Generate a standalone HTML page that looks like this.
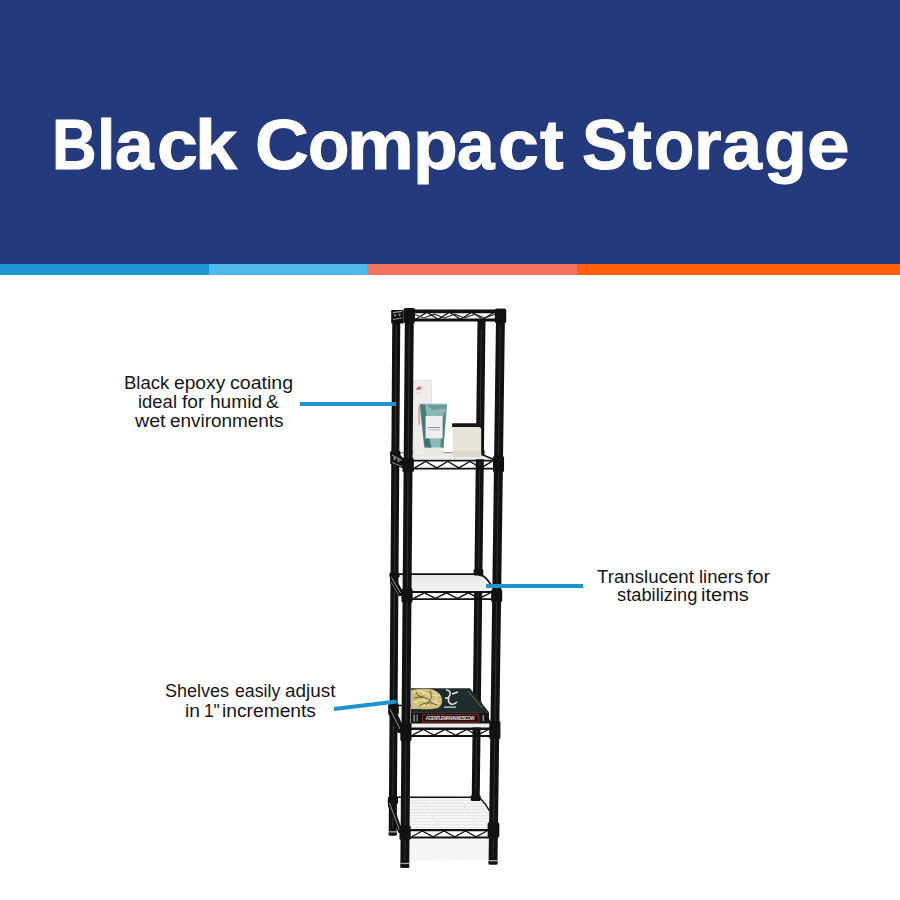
<!DOCTYPE html>
<html><head><meta charset="utf-8">
<style>
html,body{margin:0;padding:0;}
body{width:900px;height:900px;position:relative;overflow:hidden;background:#fff;font-family:"Liberation Sans",sans-serif;}
#hdr{position:absolute;left:0;top:0;width:900px;height:264px;background:#253a7c;}
.tw{position:absolute;top:110px;font-size:70px;font-weight:bold;color:#fff;-webkit-text-stroke:1px #fff;white-space:nowrap;line-height:70px;transform-origin:0 0;}
.stripe{position:absolute;top:264px;height:11px;}
.ln{position:absolute;font-size:17.5px;color:#161616;white-space:nowrap;line-height:17.5px;transform-origin:0 0;}
.line{position:absolute;background:#1f93cf;height:4px;}
svg{position:absolute;left:0;top:0;}
</style></head><body>
<div id="hdr"></div>
<div class="tw" style="left:52.07px;transform:scaleX(0.8818)">B</div>
<div class="tw" style="left:96.92px;transform:scaleX(0.9455)">l</div>
<div class="tw" style="left:114.72px;transform:scaleX(0.9921)">a</div>
<div class="tw" style="left:156.80px;transform:scaleX(1.0486)">c</div>
<div class="tw" style="left:194.58px;transform:scaleX(1.0800)">k</div>
<div class="tw" style="left:254.57px;transform:scaleX(1.0638)">C</div>
<div class="tw" style="left:308.06px;transform:scaleX(0.9692)">o</div>
<div class="tw" style="left:346.81px;transform:scaleX(1.0722)">m</div>
<div class="tw" style="left:412.51px;transform:scaleX(1.0472)">p</div>
<div class="tw" style="left:456.97px;transform:scaleX(0.9658)">a</div>
<div class="tw" style="left:497.90px;transform:scaleX(1.0486)">c</div>
<div class="tw" style="left:540.00px;transform:scaleX(1.0130)">t</div>
<div class="tw" style="left:582.05px;transform:scaleX(0.9762)">S</div>
<div class="tw" style="left:628.30px;transform:scaleX(1.0174)">t</div>
<div class="tw" style="left:654.22px;transform:scaleX(0.9410)">o</div>
<div class="tw" style="left:694.27px;transform:scaleX(1.0087)">r</div>
<div class="tw" style="left:721.95px;transform:scaleX(1.0263)">a</div>
<div class="tw" style="left:764.00px;transform:scaleX(1.0000)">g</div>
<div class="tw" style="left:807.11px;transform:scaleX(1.0943)">e</div>
<div class="stripe" style="left:0;width:209px;background:#1e96d4"></div>
<div class="stripe" style="left:209px;width:158px;background:#4fb9ec"></div>
<div class="stripe" style="left:367px;width:210px;background:#f47360"></div>
<div class="stripe" style="left:577px;width:323px;background:#fc5e0a"></div>

<svg width="900" height="900" viewBox="0 0 900 900">
<polygon points="392.34,310.00 400.34,310.00 396.70,835.60 388.70,835.60" fill="#111111"/>
<rect x="388.72" y="831.60" width="8.00" height="4" rx="2" fill="#111111"/>
<polygon points="477.50,321.00 485.50,321.00 479.70,800.00 471.70,800.00" fill="#111111"/>
<rect x="471.74" y="796.00" width="8.00" height="4" rx="2" fill="#111111"/>
<line x1="396.24" y1="325" x2="392.75" y2="828" stroke="#3a3a3a" stroke-width="0.8"/>
<line x1="481.39" y1="330" x2="475.82" y2="790" stroke="#3a3a3a" stroke-width="0.8"/>
<rect x="388.73" y="831.2" width="8.00" height="1.3" fill="#a8a8a8"/>
<polygon points="399.5,452.9 476.5,452.9 494,459.2 412,459.2" fill="#ededed"/>
<polygon points="399,456 404,458.5 404,466 400,464" fill="#d8d8d8"/>
<defs><linearGradient id="g3" x1="0" y1="0" x2="0" y2="1"><stop offset="0" stop-color="#e6e6e6"/><stop offset="1" stop-color="#f3f3f3"/></linearGradient><linearGradient id="g5" x1="0" y1="0" x2="0" y2="1"><stop offset="0" stop-color="#f2f2f2"/><stop offset="1" stop-color="#f7f7f7"/></linearGradient></defs>
<polygon points="398.5,574.5 475,574.5 483,577 492,588 492,591.5 411,591.5 401,583" fill="url(#g3)"/>
<polygon points="396,706 474,706 492,727.5 403,727.5" fill="#eeeeee"/>
<polygon points="396,797.5 473,797.5 482,802 489.5,813 489.5,829 409,829 398,808" fill="url(#g5)"/>
<line x1="399.2" y1="800.5" x2="489.0" y2="800.5" stroke="#e3e3e3" stroke-width="0.8"/>
<line x1="400.3" y1="803.5" x2="489.0" y2="803.5" stroke="#e3e3e3" stroke-width="0.8"/>
<line x1="401.3" y1="806.5" x2="489.0" y2="806.5" stroke="#e3e3e3" stroke-width="0.8"/>
<line x1="402.4" y1="809.5" x2="489.0" y2="809.5" stroke="#e3e3e3" stroke-width="0.8"/>
<line x1="403.4" y1="812.5" x2="489.0" y2="812.5" stroke="#e3e3e3" stroke-width="0.8"/>
<line x1="404.5" y1="815.5" x2="489.0" y2="815.5" stroke="#e3e3e3" stroke-width="0.8"/>
<line x1="405.5" y1="818.5" x2="489.0" y2="818.5" stroke="#e3e3e3" stroke-width="0.8"/>
<line x1="406.6" y1="821.5" x2="489.0" y2="821.5" stroke="#e3e3e3" stroke-width="0.8"/>
<line x1="407.6" y1="824.5" x2="489.0" y2="824.5" stroke="#e3e3e3" stroke-width="0.8"/>
<line x1="408.7" y1="827.5" x2="489.0" y2="827.5" stroke="#e3e3e3" stroke-width="0.8"/>
<line x1="420" y1="798" x2="440" y2="828" stroke="#e0e0e0" stroke-width="0.8"/>
<line x1="460" y1="798" x2="478" y2="828" stroke="#e0e0e0" stroke-width="0.8"/>
<polygon points="409,840 490,840 489,860 407,861" fill="#f5f5f5"/>
<line x1="398" y1="452.6" x2="478" y2="452.6" stroke="#9a9a9a" stroke-width="1.2"/>
<rect x="390.23" y="450.80" width="10.24" height="5.70" rx="1.6" fill="#111111"/>
<rect x="475.27" y="449.50" width="9.27" height="6.00" rx="1.6" fill="#111111"/>
<polygon points="390.3,452 397.5,452 403.5,458.5 403.5,468.5 390.3,464" fill="#111111"/>
<line x1="392" y1="455" x2="402" y2="460.5" stroke="#bdbdbd" stroke-width="0.9"/>
<line x1="392" y1="462.5" x2="402" y2="466.5" stroke="#9a9a9a" stroke-width="0.9"/>
<rect x="393.5" y="457" width="2" height="3" fill="#888"/><rect x="397.5" y="459" width="2" height="3" fill="#888"/>
<line x1="483" y1="455" x2="494" y2="459.5" stroke="#111111" stroke-width="1.4"/>
<line x1="398" y1="574.2" x2="476" y2="574.2" stroke="#111111" stroke-width="1.7"/>
<rect x="389.39" y="572.50" width="10.23" height="5.00" rx="1.6" fill="#111111"/>
<rect x="473.62" y="569.00" width="9.68" height="6.60" rx="1.6" fill="#111111"/>
<polygon points="390,575 394,575 402,590 402,596 399,596 390,583" fill="#111111"/>
<line x1="391.5" y1="577.5" x2="400.5" y2="593" stroke="#a8a8a8" stroke-width="0.9"/>
<line x1="391" y1="582" x2="398.5" y2="594.5" stroke="#8a8a8a" stroke-width="0.7"/>
<path d="M482 575 Q489 580 492.5 588" stroke="#111111" stroke-width="1.6" fill="none"/>
<line x1="398" y1="705.5" x2="474" y2="705.5" stroke="#111111" stroke-width="1.6"/>
<rect x="388.34" y="703.30" width="10.48" height="11.40" rx="1.6" fill="#111111"/>
<rect x="472.01" y="701.00" width="9.68" height="7.00" rx="1.6" fill="#111111"/>
<polygon points="388.5,705 393.5,705 402.5,725 402.5,733 398,733 388.5,714" fill="#111111"/>
<line x1="390" y1="709" x2="400" y2="729" stroke="#a0a0a0" stroke-width="0.9"/>
<path d="M480 707 Q487 714 491.5 726" stroke="#111111" stroke-width="1.5" fill="none"/>
<line x1="396" y1="797.3" x2="473" y2="797.3" stroke="#111111" stroke-width="1.6"/>
<rect x="387.82" y="796.80" width="10.25" height="7.10" rx="1.6" fill="#111111"/>
<rect x="470.79" y="795.00" width="9.87" height="6.00" rx="1.6" fill="#111111"/>
<polygon points="388,800 391.5,800 401,827 401,833 398.5,833 388,806" fill="#111111"/>
<line x1="389.5" y1="803" x2="399.5" y2="830" stroke="#a0a0a0" stroke-width="0.9"/>
<path d="M480 798 Q486 804 489.5 811" stroke="#111111" stroke-width="1.5" fill="none"/>
<g>
<rect x="413.8" y="380.2" width="17.9" height="75" fill="#eeedeb" stroke="#dcdad6" stroke-width="0.7"/>
<path d="M415.8 389.8 q1.8 -3.8 5.6 -3.2 l-1 3.2 z" fill="#e06058"/>
<rect x="416" y="392.5" width="6" height="0.8" fill="#e8c0bb"/>
<rect x="418.2" y="406" width="1.8" height="19" fill="#e7a29a"/>
<polygon points="419.4,403.8 447.3,403.8 443.5,447.7 424.2,447.7" fill="#8bb7b7"/>
<polygon points="420,404.5 425,404.5 431,447.7 424.5,447.7" fill="#4a7a7a"/>
<polygon points="427,405 446.8,405 446.5,408.5 432,410" fill="#6f9a9a"/>
<polygon points="442,418 446,410 443.5,447.7 440.5,447.7" fill="#55807f"/>
<polygon points="426,438 432,447.7 428,447.7 425,441" fill="#3d6a6a"/>
<rect x="425.6" y="416" width="17" height="22.3" fill="#eef0f0"/>
<rect x="427.5" y="427" width="12.5" height="0.9" fill="#7b8a8a"/>
<rect x="428.5" y="429.5" width="11.5" height="0.8" fill="#a0abab"/>
<rect x="424.2" y="447.7" width="19.3" height="7.8" fill="#e8e6e1"/>
<rect x="452" y="423.2" width="30.2" height="4" rx="1" fill="#1a1a1a"/>
<rect x="452.6" y="427" width="28.6" height="30" rx="2.5" fill="#e7e3d9"/>
<rect x="452.6" y="451" width="28.6" height="6" rx="2.5" fill="#dcd8ce"/>
</g>
<g>
<polygon points="411,688.3 470,688.3 489,712.2 411,712.2" fill="#1f2c2d"/>
<path d="M411 690 L418 689 Q428 688 434 690 Q441 693 442 699 Q443 705 438 708 Q430 710 420 709 L411 709 Z" fill="#cfbd78"/>
<g stroke="#f0e6b4" stroke-width="1" fill="none">
<path d="M412 693 q9 -4 16 2 q7 6 -1 10 q-9 3 -12 -4"/>
<path d="M418 690 q12 7 22 5"/>
<path d="M413 703 q13 -7 27 1"/>
<path d="M424 691 q-3 10 6 16"/>
<path d="M432 690 q8 6 2 16"/>
</g>
<g stroke="#5e5028" stroke-width="0.9" fill="none">
<path d="M414 698 q10 -3 18 4"/>
<path d="M430 691 q4 8 -4 14"/>
<path d="M419 706 q8 -6 18 -1"/>
<path d="M416 692 q2 6 8 4"/>
</g>
<path d="M446 690 q5 0 4 5 q-2 4 -5 3 M449 697 q-2 5 2 7 q3 1 6 -2 M452 694 l6 -2" stroke="#e8e8e8" stroke-width="1.5" fill="none"/>
<line x1="468" y1="691" x2="482" y2="708" stroke="#a38a3a" stroke-width="0.7"/>
<rect x="444" y="706.5" width="12" height="1.3" fill="#d0d0d0"/>
<rect x="411" y="712.2" width="78" height="11.3" fill="#141414"/>
<rect x="422" y="713.9" width="57.4" height="8.9" fill="#7d1f1f"/>
<rect x="423.3" y="715.2" width="54.8" height="6.3" fill="#1a1111"/>
<text x="425.5" y="720.2" font-family="Liberation Sans" font-size="4.6" font-weight="bold" fill="#e0dcdc" textLength="49" lengthAdjust="spacing">A GENTLEMAN IN MOSCOW</text>
<rect x="413.5" y="714.5" width="1.4" height="7" fill="#9a9a9a"/>
<rect x="416.5" y="714.5" width="1.4" height="7" fill="#7a7a7a"/>
<rect x="482.5" y="715" width="1.6" height="6" fill="#8a8a8a"/>
</g>
<line x1="413.82" y1="311.4" x2="496.11" y2="311.4" stroke="#111111" stroke-width="3.6"/>
<line x1="413.82" y1="320.0" x2="496.11" y2="320.0" stroke="#111111" stroke-width="3.2"/>
<polyline points="415.8,319.2 427.0,312.2 438.2,319.2 449.4,312.2 460.6,319.2 471.7,312.2 482.9,319.2 494.1,312.2" fill="none" stroke="#111111" stroke-width="1.3"/>
<line x1="412.60" y1="460.6" x2="494.07" y2="460.6" stroke="#111111" stroke-width="1.7"/>
<line x1="412.60" y1="468.7" x2="494.07" y2="468.7" stroke="#111111" stroke-width="1.8"/>
<polyline points="414.6,467.9 425.7,461.4 436.7,467.9 447.8,461.4 458.9,467.9 469.9,461.4 481.0,467.9 492.1,461.4" fill="none" stroke="#111111" stroke-width="1.3"/>
<line x1="411.52" y1="592.0" x2="492.28" y2="592.0" stroke="#111111" stroke-width="1.9"/>
<line x1="411.52" y1="599.2" x2="492.28" y2="599.2" stroke="#111111" stroke-width="1.8"/>
<polyline points="413.5,598.4 424.5,592.8 435.4,598.4 446.4,592.8 457.4,598.4 468.3,592.8 479.3,598.4 490.3,592.8" fill="none" stroke="#111111" stroke-width="1.3"/>
<line x1="410.39" y1="728.7" x2="490.41" y2="728.7" stroke="#111111" stroke-width="2.6"/>
<line x1="410.39" y1="736.0" x2="490.41" y2="736.0" stroke="#111111" stroke-width="2.0"/>
<polyline points="412.4,735.2 423.3,729.5 434.1,735.2 445.0,729.5 455.8,735.2 466.7,729.5 477.5,735.2 488.4,729.5" fill="none" stroke="#111111" stroke-width="1.3"/>
<line x1="409.56" y1="830.2" x2="489.02" y2="830.2" stroke="#111111" stroke-width="2.2"/>
<line x1="409.56" y1="837.5" x2="489.02" y2="837.5" stroke="#111111" stroke-width="2.0"/>
<polyline points="411.6,836.7 422.3,831.0 433.1,836.7 443.9,831.0 454.7,836.7 465.5,831.0 476.2,836.7 487.0,831.0" fill="none" stroke="#111111" stroke-width="1.3"/>
<rect x="391.2" y="310" width="12.5" height="13.6" rx="1.2" fill="#111111"/>
<line x1="393" y1="312.5" x2="402" y2="311.5" stroke="#c8c8c8" stroke-width="0.9"/>
<line x1="393" y1="319.5" x2="402" y2="318" stroke="#9a9a9a" stroke-width="0.9"/>
<rect x="394" y="314" width="2" height="2.5" fill="#777"/><rect x="398.5" y="313.5" width="2" height="2.5" fill="#777"/>
<polyline points="414.0,314.2 424.1,318.0 434.2,314.2 444.4,318.0 454.5,314.2 464.6,318.0 474.8,314.2 484.9,318.0 495.0,314.2" fill="none" stroke="#2a2a2a" stroke-width="1.1"/>
<polygon points="404.95,308.00 413.85,308.00 409.25,867.70 400.35,867.70" fill="#111111"/>
<rect x="400.37" y="863.70" width="8.90" height="4" rx="2" fill="#111111"/>
<polygon points="496.15,308.70 505.05,308.70 497.45,864.40 488.55,864.40" fill="#111111"/>
<rect x="488.58" y="860.40" width="8.90" height="4" rx="2" fill="#111111"/>
<line x1="409.26" y1="325" x2="404.86" y2="860" stroke="#3a3a3a" stroke-width="0.8"/>
<line x1="500.38" y1="325" x2="493.10" y2="857" stroke="#3a3a3a" stroke-width="0.8"/>
<rect x="403.68" y="308.00" width="11.32" height="15.10" rx="1.6" fill="#111111"/>
<rect x="494.80" y="308.70" width="11.40" height="14.30" rx="1.6" fill="#111111"/>
<rect x="402.40" y="457.80" width="11.42" height="14.20" rx="1.6" fill="#111111"/>
<rect x="492.92" y="456.00" width="11.12" height="16.00" rx="1.6" fill="#111111"/>
<rect x="401.43" y="588.50" width="11.22" height="14.00" rx="1.6" fill="#111111"/>
<rect x="491.14" y="589.50" width="11.07" height="12.50" rx="1.6" fill="#111111"/>
<rect x="400.29" y="722.70" width="11.25" height="18.30" rx="1.6" fill="#111111"/>
<rect x="489.27" y="721.00" width="11.15" height="18.00" rx="1.6" fill="#111111"/>
<rect x="399.48" y="825.60" width="11.22" height="14.20" rx="1.6" fill="#111111"/>
<rect x="487.62" y="822.30" width="11.71" height="15.20" rx="1.6" fill="#111111"/>
<rect x="400.39" y="862.80" width="8.90" height="1.3" fill="#a8a8a8"/>
<rect x="488.60" y="860.00" width="8.90" height="1.3" fill="#a8a8a8"/>
</svg>

<div class="ln" style="left:124.44px;top:375.4px;transform:scaleX(1.0595)">Black</div>
<div class="ln" style="left:174.40px;top:375.4px;transform:scaleX(1.0978)">epoxy</div>
<div class="ln" style="left:230.38px;top:375.4px;transform:scaleX(1.1182)">coating</div>
<div class="ln" style="left:137.95px;top:394.3px;transform:scaleX(1.0543)">ideal</div>
<div class="ln" style="left:182.10px;top:394.3px;transform:scaleX(1.0900)">for</div>
<div class="ln" style="left:209.51px;top:394.3px;transform:scaleX(1.0913)">humid</div>
<div class="ln" style="left:266.11px;top:394.3px;transform:scaleX(1.0909)">&amp;</div>
<div class="ln" style="left:135.30px;top:413.2px;transform:scaleX(1.1222)">wet</div>
<div class="ln" style="left:169.82px;top:413.2px;transform:scaleX(1.0798)">environments</div>
<div class="ln" style="left:597.20px;top:568.9px;transform:scaleX(1.0681)">Translucent</div>
<div class="ln" style="left:698.95px;top:568.9px;transform:scaleX(1.0550)">liners</div>
<div class="ln" style="left:746.70px;top:568.9px;transform:scaleX(1.1350)">for</div>
<div class="ln" style="left:617.25px;top:587.4px;transform:scaleX(1.0453)">stabilizing</div>
<div class="ln" style="left:701.36px;top:587.4px;transform:scaleX(1.1450)">items</div>
<div class="ln" style="left:165.17px;top:682.9px;transform:scaleX(1.0295)">Shelves</div>
<div class="ln" style="left:234.99px;top:682.9px;transform:scaleX(1.0114)">easily</div>
<div class="ln" style="left:285.42px;top:682.9px;transform:scaleX(1.0804)">adjust</div>
<div class="ln" style="left:185.10px;top:702.9px;transform:scaleX(1.1000)">in</div>
<div class="ln" style="left:203.90px;top:702.9px;transform:scaleX(1.0000)">1"</div>
<div class="ln" style="left:221.70px;top:702.9px;transform:scaleX(1.0976)">increments</div>

<div class="line" style="left:299.5px;top:402px;width:96.5px;"></div>
<div class="line" style="left:486px;top:584px;width:96.5px;"></div>
<div class="line" style="left:333.9px;top:706.8px;width:62.6px;transform:rotate(-6.9deg);transform-origin:0 50%;"></div>
</body></html>
